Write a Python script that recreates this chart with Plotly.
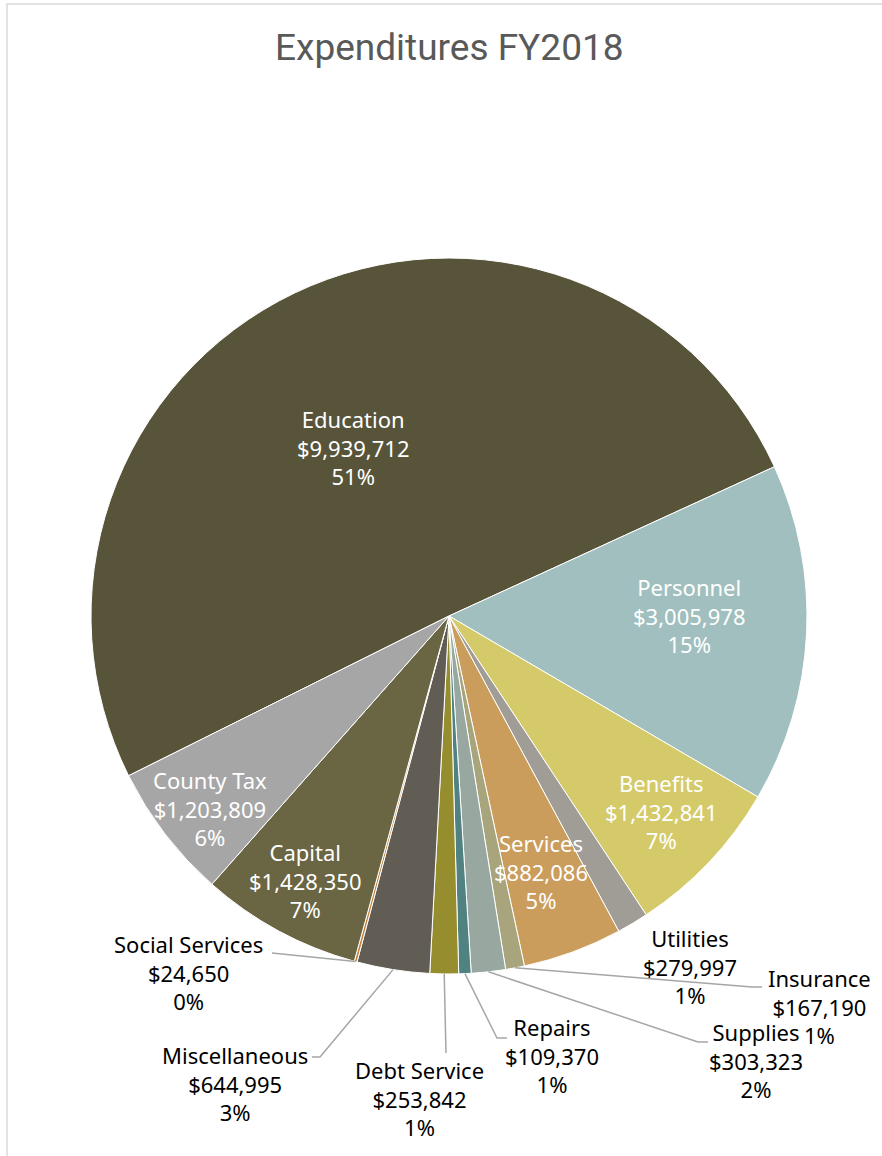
import math
import plotly.graph_objects as go

# ---------------- data ----------------
categories = ["Education", "Personnel", "Benefits", "Utilities", "Services",
              "Insurance", "Supplies", "Repairs", "Debt Service",
              "Miscellaneous", "Social Services", "Capital", "County Tax"]
amounts = [9939712, 3005978, 1432841, 279997, 882086,
           167190, 303323, 109370, 253842,
           644995, 24650, 1428350, 1203809]
pct_labels = ["51%", "15%", "7%", "1%", "5%",
              "1%", "2%", "1%", "1%",
              "3%", "0%", "7%", "6%"]
colors = ["#57543A", "#A0BFBE", "#D4CA6A", "#A09D96", "#CB9D5C",
          "#A8A57D", "#98A7A0", "#508282", "#968D2F",
          "#615D55", "#C8823C", "#6A6542", "#A6A6A6"]

# ---------------- layout geometry ----------------
W, H = 882, 1156
CX, CY, R = 449, 616, 358          # pie centre / radius in pixels
ROT = -116.5                        # start angle of first slice (deg, clockwise from 12 o'clock)
FONT = "Noto Sans"
FS = 22

def px(x, y):
    return x / W, 1 - y / H

# inside labels: centre of the label block (pixels)
inside = {
    "Education":  (353, 448),
    "Personnel":  (689, 615),
    "Benefits":   (661, 811),
    "Services":   (541, 871),
    "Capital":    (305, 880),
    "County Tax": (210, 808),
}
# outside labels: (label centre x, centre y, leader path points after slice edge)
outside = {
    "Social Services": (188, 972, [(272, 953)]),
    "Miscellaneous":   (235, 1083, [(320, 1057), (312, 1057)]),
    "Debt Service":    (419, 1098, [(446, 1053)]),
    "Repairs":         (552, 1055, [(497, 1038), (507, 1038)]),
    "Supplies":        (756, 1060, [(698, 1042), (708, 1042)]),
    "Insurance":       (819, 1006, [(752, 987), (762, 987)]),
    "Utilities":       (690, 966, []),
}

total = sum(amounts)
mid_angle = {}
acc = 0.0
for c, v in zip(categories, amounts):
    mid_angle[c] = ROT + 360 * (acc + v / 2 / total)
    acc += v / total

fig = go.Figure()
fig.add_trace(go.Pie(
    labels=categories, values=amounts, sort=False, direction="clockwise",
    rotation=ROT,
    marker=dict(colors=colors, line=dict(color="white", width=1)),
    textinfo="none",
    hoverinfo="label+value+percent",
    domain=dict(x=[(CX - R) / W, (CX + R) / W], y=[1 - (CY + R) / H, 1 - (CY - R) / H]),
    showlegend=False,
))

shapes = []
annotations = []
for c, v, p in zip(categories, amounts, pct_labels):
    label = f"{c}<br>${v:,}<br>{p}"
    if c in inside:
        lx, ly = inside[c]
        annotations.append(dict(
            x=lx / W, y=1 - ly / H, xref="paper", yref="paper",
            text=label, showarrow=False,
            font=dict(family=FONT, size=FS, color="#FFFFFF"),
            xanchor="center", yanchor="middle", align="center"))
        continue
    lx, ly, path = outside[c]
    annotations.append(dict(
        x=lx / W, y=1 - ly / H, xref="paper", yref="paper",
        text=label, showarrow=False,
        font=dict(family=FONT, size=FS, color="#000000"),
        xanchor="center", yanchor="middle", align="center"))
    if path:
        a = math.radians(mid_angle[c])
        sx, sy = CX + R * math.sin(a), CY - R * math.cos(a)
        pts = [(sx, sy)] + path
        d = "M " + " L ".join(f"{px(x, y)[0]:.5f},{px(x, y)[1]:.5f}" for x, y in pts)
        shapes.append(dict(type="path", path=d, xref="paper", yref="paper",
                           line=dict(color="#A6A6A6", width=1.5)))

# chart frame (top & left edges visible)
shapes.append(dict(type="path", xref="paper", yref="paper",
                   path=f"M {7/W:.5f},0 L {7/W:.5f},{1-4/H:.5f} L 1.01,{1-4/H:.5f}",
                   line=dict(color="#D9D9D9", width=1.5)))

annotations.append(dict(
    x=449 / W, y=1 - 47 / H, xref="paper", yref="paper",
    text="Expenditures FY2018", showarrow=False,
    font=dict(family="Roboto", size=37, color="#595959"),
    xanchor="center", yanchor="middle"))

fig.update_layout(
    width=W, height=H, margin=dict(l=0, r=0, t=0, b=0),
    paper_bgcolor="white", plot_bgcolor="white",
    shapes=shapes, annotations=annotations,
)
fig.write_html("out.html")
